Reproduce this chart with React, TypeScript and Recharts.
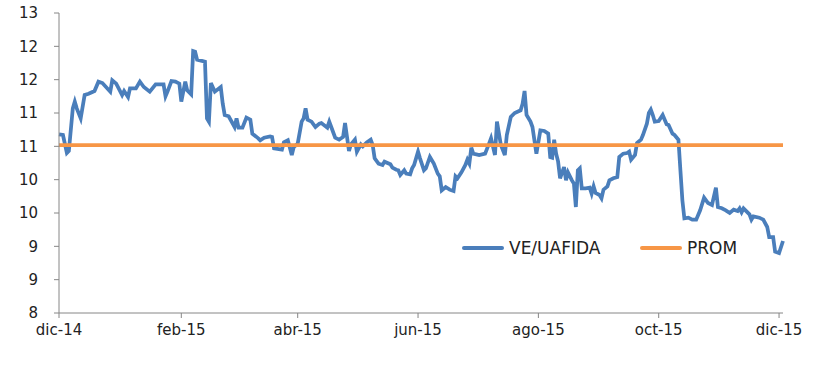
import { LineChart, Line, XAxis, YAxis, Legend } from "recharts";

const START = Date.UTC(2014, 11, 1);
const DAY = 86400000;

const dates = [
  "2014-12-01", "2014-12-03", "2014-12-05", "2014-12-06", "2014-12-08", "2014-12-09", "2014-12-10", "2014-12-12",
  "2014-12-14", "2014-12-16", "2014-12-19", "2014-12-21", "2014-12-23", "2014-12-27", "2014-12-28", "2014-12-30",
  "2015-01-02", "2015-01-03", "2015-01-05", "2015-01-06", "2015-01-09", "2015-01-11", "2015-01-13", "2015-01-16",
  "2015-01-19", "2015-01-23", "2015-01-24", "2015-01-25", "2015-01-27", "2015-01-29", "2015-01-31",
  "2015-02-01", "2015-02-03", "2015-02-04", "2015-02-06", "2015-02-07", "2015-02-08", "2015-02-09", "2015-02-13",
  "2015-02-14", "2015-02-15", "2015-02-16", "2015-02-18", "2015-02-21", "2015-02-22", "2015-02-23", "2015-02-25",
  "2015-02-28", "2015-03-01", "2015-03-02", "2015-03-04", "2015-03-06", "2015-03-08", "2015-03-09", "2015-03-12",
  "2015-03-13", "2015-03-15", "2015-03-18", "2015-03-19", "2015-03-20", "2015-03-24", "2015-03-25", "2015-03-27",
  "2015-03-29", "2015-03-30", "2015-04-01", "2015-04-03", "2015-04-04", "2015-04-05", "2015-04-06", "2015-04-08",
  "2015-04-10", "2015-04-12", "2015-04-13", "2015-04-16", "2015-04-17", "2015-04-18", "2015-04-20", "2015-04-22",
  "2015-04-24", "2015-04-25", "2015-04-27", "2015-04-28", "2015-04-30", "2015-05-01", "2015-05-03", "2015-05-04",
  "2015-05-06", "2015-05-08", "2015-05-09", "2015-05-10", "2015-05-12", "2015-05-14", "2015-05-15", "2015-05-18",
  "2015-05-19", "2015-05-21", "2015-05-22", "2015-05-23", "2015-05-25", "2015-05-26", "2015-05-28", "2015-05-29",
  "2015-05-30", "2015-06-01", "2015-06-02", "2015-06-04", "2015-06-05", "2015-06-07", "2015-06-09", "2015-06-11",
  "2015-06-12", "2015-06-13", "2015-06-15", "2015-06-17", "2015-06-19", "2015-06-20", "2015-06-21", "2015-06-23",
  "2015-06-25", "2015-06-26", "2015-06-27", "2015-06-28", "2015-06-29", "2015-07-02", "2015-07-05", "2015-07-07",
  "2015-07-08", "2015-07-10", "2015-07-11", "2015-07-13", "2015-07-15", "2015-07-16", "2015-07-18", "2015-07-20",
  "2015-07-23", "2015-07-24", "2015-07-25", "2015-07-26", "2015-07-28", "2015-07-29", "2015-07-31", "2015-08-02",
  "2015-08-04", "2015-08-06", "2015-08-07", "2015-08-08", "2015-08-09", "2015-08-10", "2015-08-11", "2015-08-12",
  "2015-08-14", "2015-08-15", "2015-08-16", "2015-08-18", "2015-08-19", "2015-08-20", "2015-08-21", "2015-08-22",
  "2015-08-23", "2015-08-25", "2015-08-27", "2015-08-28", "2015-08-29", "2015-08-30", "2015-09-01", "2015-09-02",
  "2015-09-03", "2015-09-05", "2015-09-06", "2015-09-08", "2015-09-10", "2015-09-11", "2015-09-13", "2015-09-15",
  "2015-09-16", "2015-09-17", "2015-09-19", "2015-09-20", "2015-09-22", "2015-09-23", "2015-09-25", "2015-09-26",
  "2015-09-27", "2015-09-28", "2015-09-29", "2015-10-01", "2015-10-03", "2015-10-05", "2015-10-06", "2015-10-08",
  "2015-10-09", "2015-10-11", "2015-10-12", "2015-10-13", "2015-10-14", "2015-10-16", "2015-10-18", "2015-10-20",
  "2015-10-22", "2015-10-24", "2015-10-26", "2015-10-28", "2015-10-30", "2015-10-31", "2015-11-02", "2015-11-04",
  "2015-11-06", "2015-11-08", "2015-11-10", "2015-11-11", "2015-11-12", "2015-11-13", "2015-11-15", "2015-11-16",
  "2015-11-17", "2015-11-18", "2015-11-21", "2015-11-23", "2015-11-25", "2015-11-26", "2015-11-28", "2015-11-29",
  "2015-12-01", "2015-12-03",
];

const veUafida = [
  10.68, 10.67, 10.4, 10.43, 11.07, 11.17, 11.07, 10.92,
  11.27, 11.29, 11.33, 11.47, 11.45, 11.32, 11.49, 11.44,
  11.27, 11.33, 11.24, 11.37, 11.37, 11.47, 11.39, 11.32,
  11.43, 11.43, 11.25, 11.32, 11.48, 11.47, 11.44,
  11.17, 11.47, 11.34, 11.28, 11.93, 11.92, 11.8, 11.77,
  10.92, 10.87, 11.45, 11.32, 11.39, 11.14, 10.97, 10.95,
  10.79, 10.92, 10.78, 10.78, 10.93, 10.9, 10.69, 10.62,
  10.59, 10.63, 10.65, 10.64, 10.47, 10.45, 10.56, 10.59,
  10.37, 10.49, 10.54, 10.87, 10.92, 11.07, 10.9, 10.87,
  10.79, 10.84, 10.85, 10.78, 10.87, 10.79, 10.63, 10.6,
  10.64, 10.85, 10.43, 10.53, 10.6, 10.42, 10.53, 10.5,
  10.56, 10.6, 10.52, 10.32, 10.24, 10.22, 10.27, 10.23,
  10.18, 10.15, 10.14, 10.07, 10.14, 10.09, 10.08, 10.17,
  10.22, 10.42, 10.32, 10.14, 10.17, 10.34, 10.24, 10.09,
  10.05, 9.84, 9.89, 9.85, 9.83, 10.05, 10.02, 10.11,
  10.22, 10.3, 10.24, 10.48, 10.39, 10.37, 10.39, 10.54,
  10.62, 10.37, 10.87, 10.52, 10.37, 10.67, 10.94, 11.0,
  11.04, 11.14, 11.33, 10.97, 10.87, 10.79, 10.39, 10.74,
  10.73, 10.69, 10.34, 10.33, 10.6, 10.39, 10.27, 10.02,
  10.19, 9.99, 10.11, 9.99, 9.94, 9.59, 10.14, 10.17,
  9.87, 9.87, 9.88, 9.79, 9.9, 9.8, 9.77, 9.72,
  9.85, 9.9, 9.99, 10.02, 10.04, 10.34, 10.39, 10.4,
  10.42, 10.3, 10.37, 10.55, 10.6, 10.67, 10.84, 11.0,
  11.05, 10.97, 10.87, 10.88, 10.97, 10.83, 10.82, 10.69,
  10.67, 10.6, 10.14, 9.69, 9.42, 9.43, 9.4, 9.4,
  9.54, 9.73, 9.65, 9.62, 9.88, 9.59, 9.57, 9.54,
  9.5, 9.55, 9.53, 9.57, 9.51, 9.57, 9.51, 9.48,
  9.4, 9.45, 9.43, 9.4, 9.29, 9.14, 9.14, 8.92,
  8.9, 9.08,
];

const PROM = 10.52;

const xTickDates = ["2014-12-01", "2015-02-01", "2015-04-01", "2015-06-01", "2015-08-01", "2015-10-01", "2015-12-01"];
const xTickLabels = ["dic-14", "feb-15", "abr-15", "jun-15", "ago-15", "oct-15", "dic-15"];
const yTicks = [8, 8.5, 9, 9.5, 10, 10.5, 11, 11.5, 12, 12.5];

const toDay = (s: string) => {
  const [y, m, d] = s.split("-").map(Number);
  return (Date.UTC(y, m - 1, d) - START) / DAY;
};

const chartData = dates.map((d, i) => ({ day: toDay(d), ve: veUafida[i], prom: PROM }));
const xTicks = xTickDates.map(toDay);

const FONT = "'DejaVu Sans', Verdana, sans-serif";
const AXIS = "#868686";
const legendLeft: Record<string, number> = { "VE/UAFIDA": 462, PROM: 640 };

const renderLegend = (props: any) => (
  <div style={{ position: "relative", width: 818, height: 24 }}>
    {(props.payload || []).map((p: any) => (
      <div
        key={p.value}
        style={{ position: "absolute", left: legendLeft[p.value] ?? 0, top: 0, height: 24, display: "flex", alignItems: "center" }}
      >
        <span style={{ display: "inline-block", width: 42, height: 4, background: p.color, borderRadius: 2, marginRight: 5 }} />
        <span style={{ fontFamily: FONT, fontSize: 17, color: "#222" }}>{p.value}</span>
      </div>
    ))}
  </div>
);

export default function App() {
  return (
    <div style={{ position: "absolute", left: 0, top: 0, width: 818, height: 369, background: "#fff" }}>
      <LineChart width={818} height={369} data={chartData} margin={{ top: 13, right: 35, bottom: 26, left: 0 }}>
        <XAxis
          dataKey="day"
          type="number"
          domain={[0, 367]}
          ticks={xTicks}
          tickFormatter={(v: number) => xTickLabels[xTicks.indexOf(v)] ?? ""}
          height={30}
          stroke={AXIS}
          tickSize={5}
          tickMargin={6}
          tick={{ fontFamily: FONT, fontSize: 15, fill: "#222" }}
          interval={0}
        />
        <YAxis
          type="number"
          domain={[8, 12.5]}
          ticks={yTicks}
          tickFormatter={(v: number) => String(Math.round(v))}
          width={59}
          stroke={AXIS}
          tickSize={5}
          tickMargin={16}
          tick={{ fontFamily: FONT, fontSize: 15, fill: "#222" }}
          interval={0}
        />
        <Legend
          verticalAlign="middle"
          align="center"
          content={renderLegend}
          wrapperStyle={{ top: 236, left: 0, width: 818 }}
        />
        <Line
          type="linear"
          dataKey="ve"
          name="VE/UAFIDA"
          stroke="#4A7EBB"
          strokeWidth={3.75}
          dot={false}
          isAnimationActive={false}
        />
        <Line
          type="linear"
          dataKey="prom"
          name="PROM"
          stroke="#F79646"
          strokeWidth={3.75}
          dot={false}
          isAnimationActive={false}
        />
      </LineChart>
    </div>
  );
}
